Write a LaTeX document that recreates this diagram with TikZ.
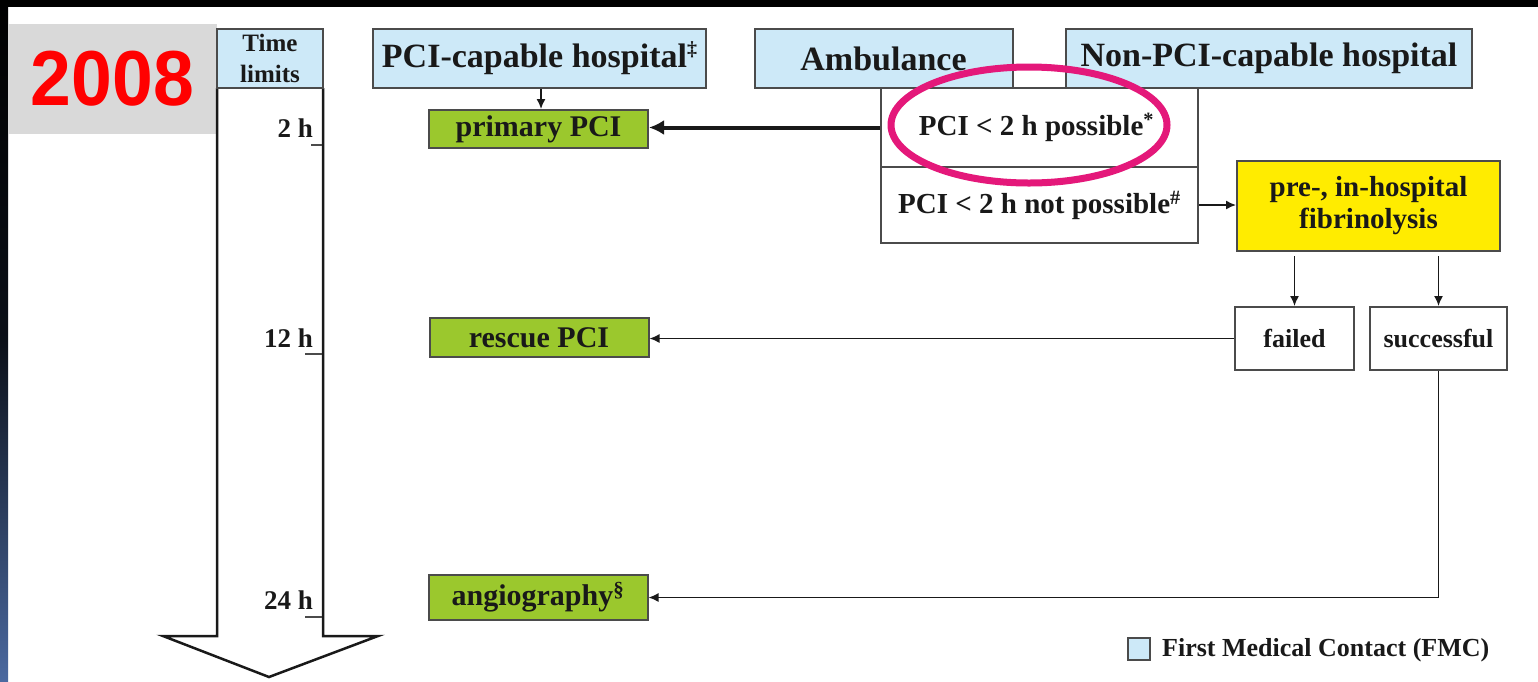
\documentclass[tikz,border=0pt]{standalone}
\usepackage{fontspec}
\setmainfont{Liberation Serif}
\newfontfamily\arialf{Liberation Sans}
\usetikzlibrary{arrows.meta}
\definecolor{fmcblue}{RGB}{205,233,248}
\definecolor{pcigreen}{RGB}{155,200,45}
\definecolor{fibyellow}{RGB}{255,236,0}
\definecolor{boxgray}{RGB}{217,217,217}
\definecolor{ringpink}{RGB}{228,24,122}
\definecolor{edgegray}{RGB}{75,75,75}
\definecolor{stripblue}{RGB}{75,105,160}
\definecolor{inkc}{RGB}{25,25,25}
\begin{document}
\begin{tikzpicture}[x=1pt,y=-1pt,
  box/.style={draw=edgegray, line width=2pt, inner sep=0pt, align=center, text=inkc},
  fmcbox/.style={box, fill=fmcblue, minimum height=59pt, font=\fontsize{34}{38}\selectfont\bfseries},
  greenbox/.style={box, fill=pcigreen, minimum width=219pt, font=\fontsize{30}{34}\selectfont\bfseries},
  whitebox/.style={box, fill=white},
  ticklabel/.style={anchor=east, inner sep=0pt, text=inkc, font=\fontsize{27}{30}\selectfont\bfseries},
  arr/.style={draw=inkc, line width=1.5pt, -{Latex[length=10pt,width=9pt]}},
  thickarr/.style={draw=inkc, line width=4pt, -{Latex[length=15pt,width=15pt]}},
  plainline/.style={draw=edgegray, line width=1.5pt}
]
\useasboundingbox (0,0) rectangle (1538,681);
% background
\fill[black] (0,0) rectangle (1538,681);
\fill[white] (8,7) rectangle (1538,681);
\shade[top color=black, bottom color=stripblue, middle color=black!85!stripblue] (0,0) rectangle (8,681);
% year label
\node[fill=boxgray, minimum width=209pt, minimum height=110pt, inner sep=0pt] (year) at (112.5,79)
  {\scalebox{0.94}[1]{\arialf\bfseries\color{red}\fontsize{78}{78}\selectfont 2008}};
% time arrow
\draw[draw=inkc, line width=2.5pt, fill=white, line join=miter]
  (217,88) -- (217,636) -- (163,636) -- (269,677) -- (378,636) -- (323,636) -- (323,88);
\node[box, fill=fmcblue, minimum width=106pt, minimum height=59pt,
  font=\fontsize{25}{31}\selectfont\bfseries] (time) at (270,58.5) {Time\\limits};
\node[ticklabel] (t2) at (313,128) {2 h};
\node[ticklabel] (t12) at (313,338) {12 h};
\node[ticklabel] (t24) at (313,600) {24 h};
\draw[plainline] (311,145) -- (322,145);
\draw[plainline] (305,354) -- (322,354);
\draw[plainline] (305,617) -- (322,617);
% header boxes
\node[fmcbox, minimum width=333pt] (pcicap) at (539.5,58.5) {PCI-capable hospital\raisebox{0.35em}{\fontsize{20}{20}\selectfont ‡}};
\node[fmcbox, minimum width=258pt] (amb) at (883.5,58.5) {Ambulance};
\node[fmcbox, minimum width=406pt] (nonpci) at (1269,58.5) {Non-PCI-capable hospital};
% decision box
\node[whitebox, minimum width=317pt, minimum height=79pt, font=\fontsize{29}{33}\selectfont\bfseries] (poss) at (1039.5,127.5)
  {PCI < 2 h possible\textsuperscript{*}\hspace*{6pt}};
\node[whitebox, minimum width=317pt, minimum height=76pt, font=\fontsize{29}{33}\selectfont\bfseries] (notposs) at (1039.5,205)
  {PCI < 2 h not possible\textsuperscript{\#}};
% treatment boxes
\node[greenbox, minimum height=38pt] (primary) at (538.5,129) {primary PCI};
\node[greenbox, minimum height=39pt] (rescue) at (539,337.5) {rescue PCI};
\node[greenbox, minimum height=45pt] (angio) at (538,597.5) {angiography\textsuperscript{§}};
\node[box, fill=fibyellow, minimum width=263pt, minimum height=90pt, font=\fontsize{29}{32}\selectfont\bfseries] (fibrin) at (1368.5,206)
  {pre-, in-hospital\\fibrinolysis};
\node[whitebox, minimum width=119pt, minimum height=63pt, font=\fontsize{26}{30}\selectfont\bfseries] (failed) at (1294.5,338.5) {failed};
\node[whitebox, minimum width=137pt, minimum height=63pt, font=\fontsize{26}{30}\selectfont\bfseries] (succ) at (1438.5,338.5) {successful};
% connectors
\draw[arr] (pcicap.south -| 541,0) -- (primary.north -| 541,0);
\draw[thickarr] (poss.west) -- (poss.west -| primary.east);
\draw[arr] (notposs.east) -- (notposs.east -| fibrin.west);
\draw[arr, shorten <=4pt] (fibrin.south -| failed.north) -- (failed.north);
\draw[arr, shorten <=4pt] (fibrin.south -| succ.north) -- (succ.north);
\draw[arr] (failed.west) -- (failed.west -| rescue.east);
\draw[arr] (succ.south) -- (succ.south |- angio.east) -- (angio.east);
% highlight ring
\draw[ringpink, line width=7pt] (1029,125) ellipse [x radius=138, y radius=58];
% legend
\node[draw=edgegray, line width=1.5pt, fill=fmcblue, minimum width=22pt, minimum height=22pt, inner sep=0pt] (legsq) at (1139,649) {};
\node[anchor=west, inner sep=0pt, text=inkc, font=\fontsize{26}{30}\selectfont\bfseries] (legtxt) at (1162,650) {First Medical Contact (FMC)};
\end{tikzpicture}
\end{document}
